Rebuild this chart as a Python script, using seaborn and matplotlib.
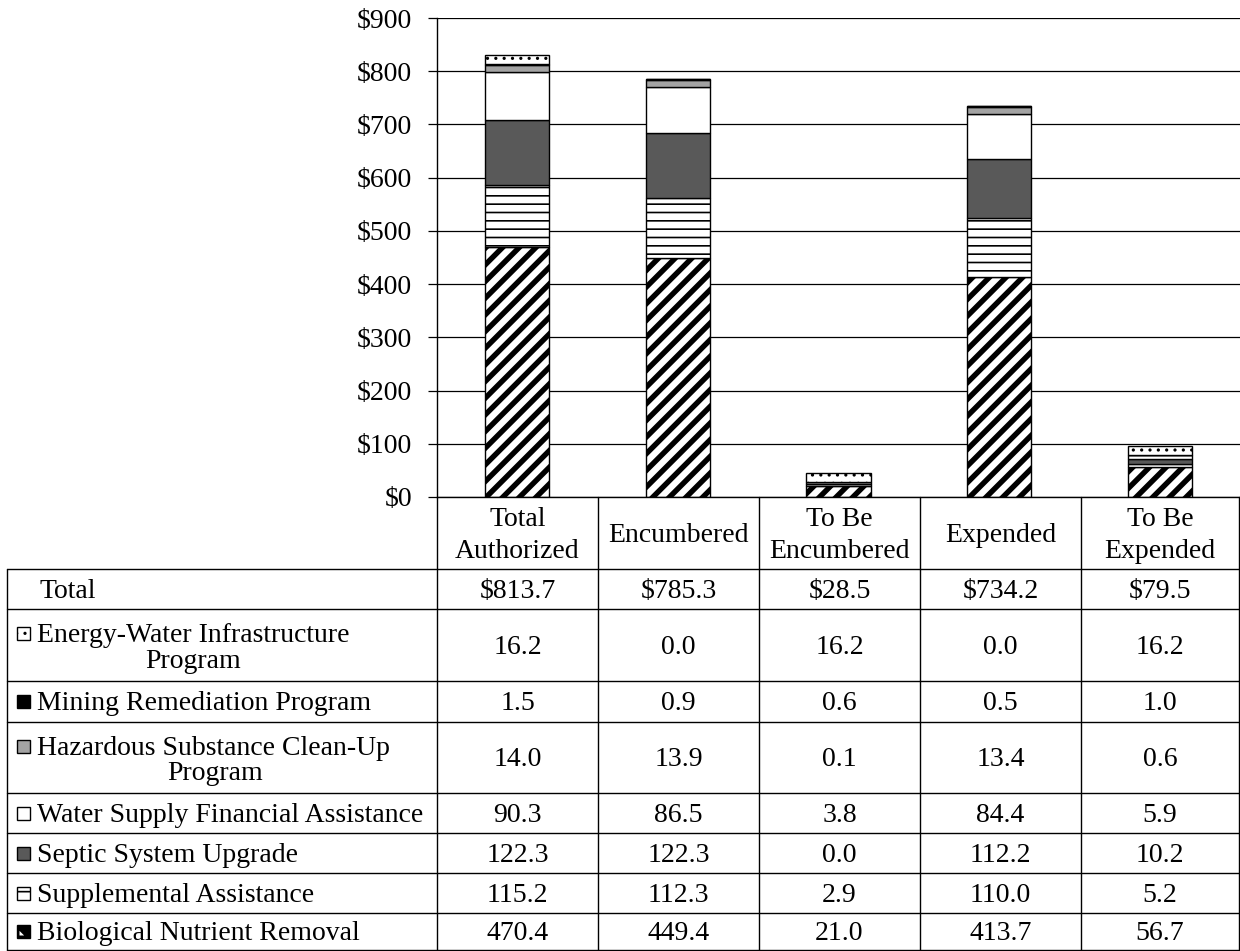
import matplotlib
matplotlib.use("Agg")
import matplotlib.pyplot as plt
from matplotlib.patches import Rectangle, Polygon
from matplotlib.lines import Line2D
import seaborn as sns

# ---- data -------------------------------------------------------------
stages = ["Total Authorized", "Encumbered", "To Be Encumbered", "Expended", "To Be Expended"]
stage_labels = ["Total\nAuthorized", "Encumbered", "To Be\nEncumbered", "Expended", "To Be\nExpended"]
total_labels = ["$813.7", "$785.3", "$28.5", "$734.2", "$79.5"]

# programs listed bottom-to-top in the stack
programs = [
    "Biological Nutrient Removal",
    "Supplemental Assistance",
    "Septic System Upgrade",
    "Water Supply Financial Assistance",
    "Hazardous Substance Clean-Up\nProgram",
    "Mining Remediation Program",
    "Energy-Water Infrastructure\nProgram",
]
bio = [470.4, 449.4, 21.0, 413.7, 56.7]
supplemental = [115.2, 112.3, 2.9, 110.0, 5.2]
septic = [122.3, 122.3, 0.0, 112.2, 10.2]
water_supply = [90.3, 86.5, 3.8, 84.4, 5.9]
hazardous = [14.0, 13.9, 0.1, 13.4, 0.6]
mining = [1.5, 0.9, 0.6, 0.5, 1.0]
energy_water = [16.2, 0.0, 16.2, 0.0, 16.2]
series = [bio, supplemental, septic, water_supply, hazardous, mining, energy_water]

y_ticks = [0, 100, 200, 300, 400, 500, 600, 700, 800, 900]

# fill colour, hatch pattern, hatch line width per program
styles = [
    ("white", "//", 3.9),
    ("white", "--", 1.2),
    ("#595959", "", 1.0),
    ("white", "", 1.0),
    ("#a3a3a3", "", 1.0),
    ("black", "", 1.0),
    ("white", "..", 1.1),
]

# ---- figure ------------------------------------------------------------
sns.set_style("white")
plt.rcParams["font.family"] = ["Liberation Serif", "DejaVu Serif"]
FS = 20
plt.rcParams["font.size"] = FS

W, H = 1240, 951
fig = plt.figure(figsize=(W / 100, H / 100), dpi=100)


def fx(x):
    return x / W


def fy(y):
    return 1 - y / H


ax_left, ax_right, ax_top, ax_bottom = 437, 1240, 18, 497
ax = fig.add_axes([fx(ax_left), fy(ax_bottom), fx(ax_right - ax_left), (ax_bottom - ax_top) / H])

cum = [0.0] * len(stages)
for vals, (fc, hatch, hlw) in zip(series, styles):
    with plt.rc_context({"hatch.linewidth": hlw, "hatch.color": "black"}):
        n_before = len(ax.patches)
        sns.barplot(x=stages, y=vals, order=stages, bottom=cum, color=fc,
                    saturation=1, width=0.4, edgecolor="black", linewidth=1.0,
                    hatch=hatch if hatch else None, errorbar=None, ax=ax)
        for p in ax.patches[n_before:]:
            if hasattr(p, "set_hatch_linewidth"):
                p.set_hatch_linewidth(hlw)
    cum = [c + v for c, v in zip(cum, vals)]

ax.set_xlim(-0.5, len(stages) - 0.5)
ax.set_ylim(0, 900)
ax.set_yticks(y_ticks)
ax.set_yticklabels([f"${t}" for t in y_ticks], fontsize=FS)
ax.set_xticks([])
ax.set_xlabel("")
ax.set_ylabel("")
ax.yaxis.grid(True, color="black", linewidth=0.9)
ax.set_axisbelow(True)
for side in ["top", "right"]:
    ax.spines[side].set_visible(False)
for side in ["left", "bottom"]:
    ax.spines[side].set_color("black")
    ax.spines[side].set_linewidth(1.0)
ax.tick_params(axis="y", which="major", left=True, length=6.5, width=0.9,
               color="black", pad=11.5, labelcolor="black")

# ---- data table beneath the plot -------------------------------------
col_edges = [437, 598, 759, 920, 1081, 1239]
col_centers = [(a + b) / 2 for a, b in zip(col_edges[:-1], col_edges[1:])]
table_left = 7
header_top, header_bottom = 497, 569
row_edges = [569, 609, 681, 722, 793, 833, 873, 913, 950]
LW = 1.0


def hline(y, x0, x1):
    fig.add_artist(Line2D([fx(x0), fx(x1)], [fy(y), fy(y)], color="black", lw=LW))


def vline(x, y0, y1):
    fig.add_artist(Line2D([fx(x), fx(x)], [fy(y0), fy(y1)], color="black", lw=LW))


for y in row_edges:
    hline(y, table_left, col_edges[-1])
vline(table_left, row_edges[0], row_edges[-1])
for x in col_edges:
    vline(x, header_top, row_edges[-1])

CAP = 9  # half cap height in px, to sit text visually centred


def put(x, y_center, s, ha="center"):
    fig.text(fx(x), fy(y_center + CAP), s, ha=ha, va="baseline", fontsize=FS, color="black")


# header: stage names
for xc, lab in zip(col_centers, stage_labels):
    lines = lab.split("\n")
    if len(lines) == 1:
        put(xc, 533, lines[0])
    else:
        put(xc, 516.5, lines[0])
        put(xc, 549.5, lines[1])

# table rows, top to bottom: total then programs in reverse stack order
rows = [("Total", None, total_labels)]
for name, vals, st in reversed(list(zip(programs, series, styles))):
    rows.append((name, st, [f"{v:.1f}" for v in vals]))

key_x, key_size = 17, 13
text_x = 37
second_line_x = {"Energy-Water Infrastructure\nProgram": 193,
                 "Hazardous Substance Clean-Up\nProgram": 215}

for i, (name, st, cells) in enumerate(rows):
    top, bot = row_edges[i], row_edges[i + 1]
    yc = (top + bot) / 2
    lines = name.split("\n")
    if st is None:
        put(40, yc, name, ha="left")
    else:
        y_first = yc if len(lines) == 1 else yc - 11.5
        fc, hatch, hlw = st
        k_left, k_top = key_x, y_first - key_size / 2
        if hatch == "//":
            # diagonal key: dark square with a light lower-left corner
            key = Rectangle((fx(k_left), fy(k_top + key_size)), key_size / W, key_size / H,
                            transform=fig.transFigure, facecolor="black", edgecolor="black",
                            linewidth=1.0)
            fig.add_artist(key)
            m = 2.5
            tri = Polygon([(fx(k_left + m), fy(k_top + key_size - m)),
                           (fx(k_left + m), fy(k_top + key_size * 0.45)),
                           (fx(k_left + key_size * 0.55), fy(k_top + key_size - m))],
                          closed=True, transform=fig.transFigure,
                          facecolor="white", edgecolor="none")
            fig.add_artist(tri)
        else:
            key_hatch = "-" if hatch == "--" else hatch
            with plt.rc_context({"hatch.linewidth": hlw, "hatch.color": "black"}):
                key = Rectangle((fx(k_left), fy(k_top + key_size)), key_size / W, key_size / H,
                                transform=fig.transFigure, facecolor=fc, edgecolor="black",
                                linewidth=1.0, hatch=key_hatch if key_hatch else None)
                if hasattr(key, "set_hatch_linewidth"):
                    key.set_hatch_linewidth(hlw)
            fig.add_artist(key)
        put(text_x, y_first, lines[0], ha="left")
        if len(lines) > 1:
            put(second_line_x[name], y_first + 25, lines[1])
    for xc, s in zip(col_centers, cells):
        put(xc, yc, s)

fig.savefig("out.png", dpi=100)
